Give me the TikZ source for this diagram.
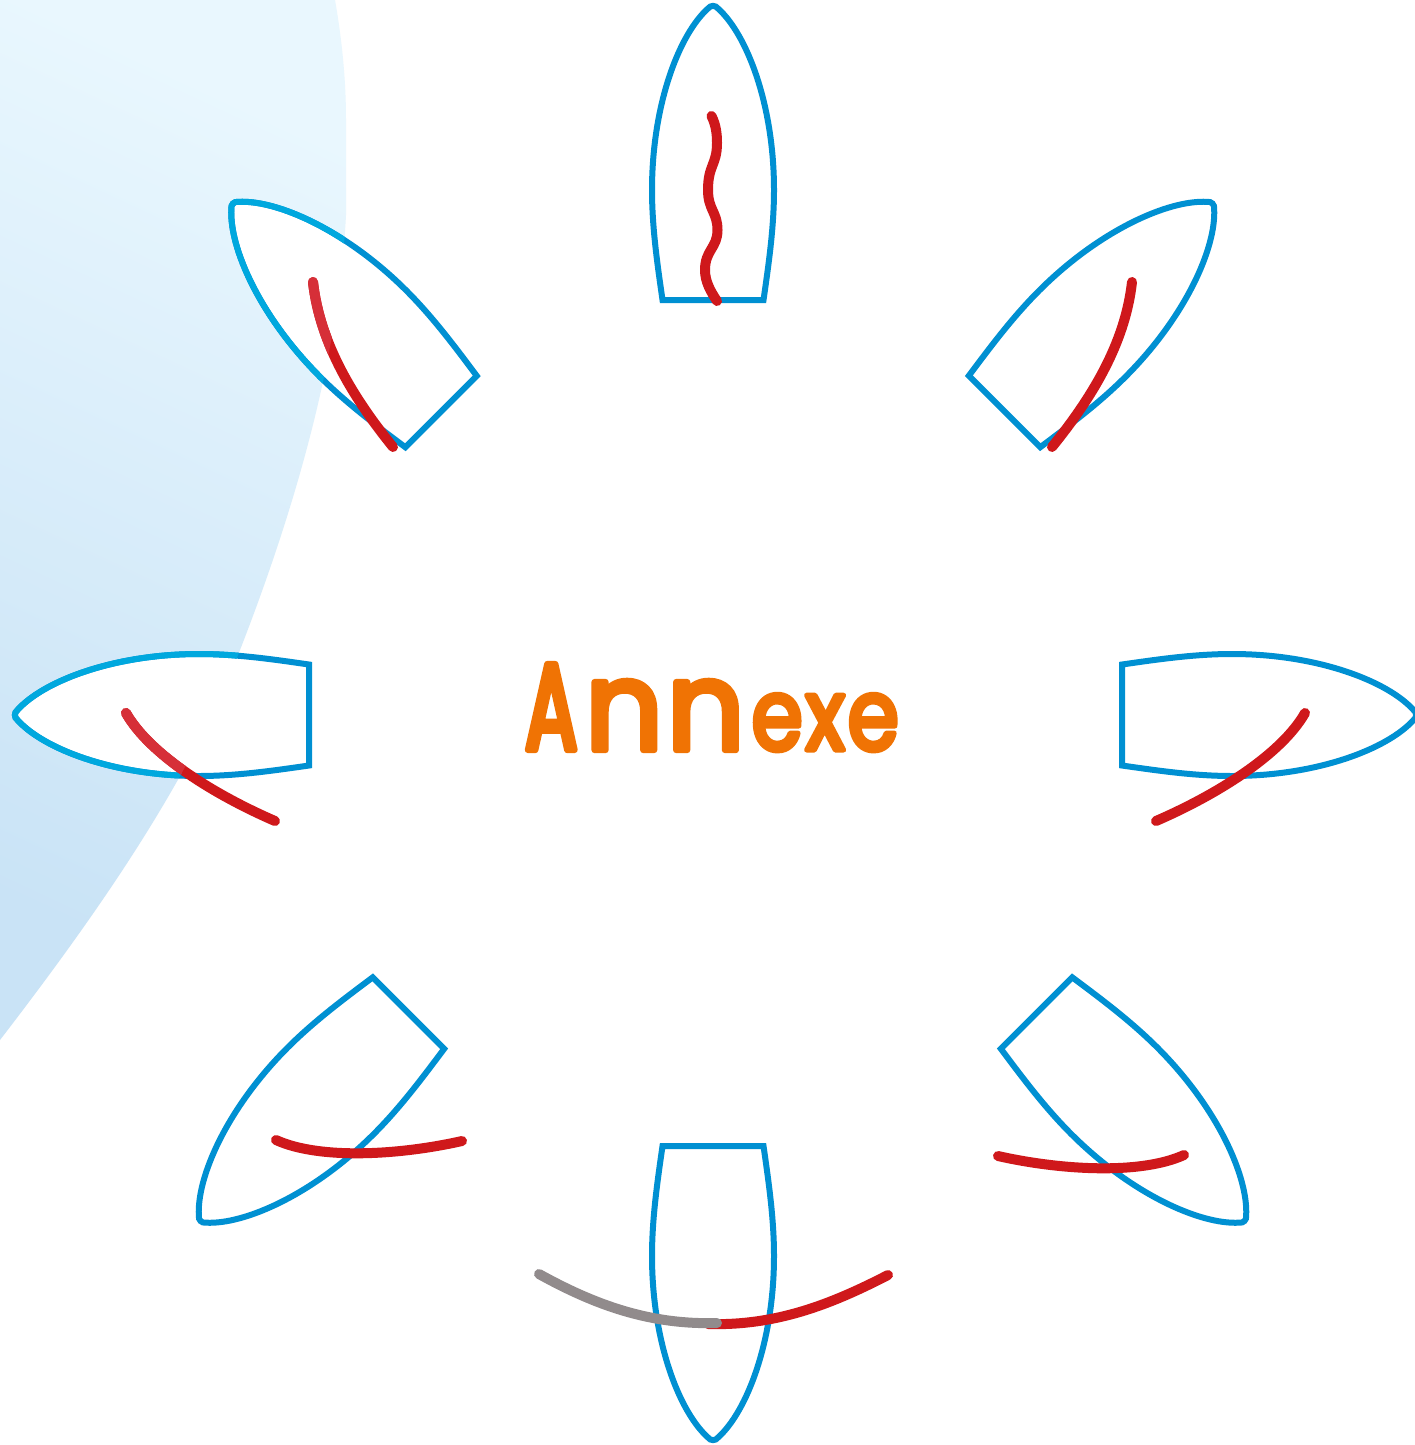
\documentclass[tikz,border=0pt]{standalone}
\usepackage{fontspec}
\newfontfamily\titleA{Poppins}[FakeBold=5,FakeStretch=0.62]
\newfontfamily\titleN{Poppins}[FakeBold=5,FakeStretch=0.98]
\newfontfamily\titleE{Poppins}[FakeBold=5,FakeStretch=0.82]
\definecolor{hullblue}{HTML}{0090D2}
\definecolor{hulllight}{HTML}{00A8DE}
\definecolor{sailred}{HTML}{CF181B}
\definecolor{saillight}{HTML}{D62F38}
\definecolor{sailgrey}{HTML}{918B8C}
\definecolor{titleorange}{HTML}{F07304}
\definecolor{seatop}{HTML}{E9F7FE}
\definecolor{seabottom}{HTML}{C9E3F6}
\tikzset{
  hullline/.style={line width=6pt,line join=miter,draw=hullblue},
  hullfaded/.style={line width=6pt,line join=miter,draw=hulllight},
  sailline/.style={line width=10pt,line cap=round,draw=sailred},
  sailfaded/.style={line width=10pt,line cap=round,draw=saillight},
  sailgreyed/.style={line width=10pt,line cap=round,draw=sailgrey},
  titletext/.style={text=titleorange,inner sep=0pt,anchor=base}
}
\newcommand{\hullshape}{(-50.5,0) .. controls (-55.5,-35) and (-61,-72) .. (-61,-110) .. controls (-61,-195) and (-34,-265.5) .. (-5,-291.5) .. controls (-2.5,-295) and (2.5,-295) .. (5,-291.5) .. controls (34,-265.5) and (61,-195) .. (61,-110) .. controls (61,-72) and (55.5,-35) .. (50.5,0) -- cycle}
\newcommand{\seashape}{(-5,-5) -- (335,-5) -- (335,0) .. controls (342,40) and (346,80) .. (346,120) -- (346,215) .. controls (340,330) and (310,470) .. (240,650) .. controls (190,780) and (100,910) .. (0,1040) -- (-5,1045) -- cycle}
\newcommand{\sailTL}{(313,282) .. controls (320,345) and (355,400) .. (393,447)}
\newcommand{\sailL}{(126,713) .. controls (150,755) and (215,795) .. (275,821)}
\begin{document}
\begin{tikzpicture}[x=1pt,y=-1pt]
\useasboundingbox (0,0) rectangle (1415,1445);
\clip (0,0) rectangle (1415,1445);
\fill[white] (0,0) rectangle (1415,1445);
% sea
\shade[top color=seatop,bottom color=seabottom,shading angle=-25] \seashape;
% hulls
\foreach \hx/\hy/\hr in {713/300/0,1004.5/411.5/-45,1122/715/-90,1036.5/1013/-135,713/1146/180,408.5/1013/135,309/715/90,441/411.5/45}{
  \begin{scope}[shift={(\hx,\hy)},rotate=\hr]
    \filldraw[hullline,fill=white] \hullshape;
  \end{scope}
}
% sails
\draw[sailline] (711.5,116) .. controls (716,125) and (717,134) .. (717,143) .. controls (717,165) and (708,165) .. (708,190) .. controls (708,210) and (717.5,212) .. (717.5,230) .. controls (717.5,248) and (705,250) .. (705,270) .. controls (705,282) and (711,292) .. (717,301);
\draw[sailline] (1132,282) .. controls (1125,345) and (1090,400) .. (1052,447);
\draw[sailline] \sailTL;
\draw[sailline] \sailL;
\draw[sailline] (1305,713) .. controls (1281,755) and (1216,795) .. (1156,821);
\draw[sailline] (276,1140) .. controls (320,1160) and (400,1155) .. (462,1141);
\draw[sailline] (1184,1155) .. controls (1140,1175) and (1060,1170) .. (998,1156);
\draw[sailline] (708,1324) .. controls (775,1326) and (830,1305) .. (888,1275);
\draw[sailgreyed] (717,1323) .. controls (650,1325) and (595,1305) .. (539,1274);
% lighter look where the strokes lie over the sea
\begin{scope}
  \clip \seashape;
  \foreach \hx/\hy/\hr in {309/715/90,441/411.5/45}{
    \begin{scope}[shift={(\hx,\hy)},rotate=\hr]
      \draw[hullfaded] \hullshape;
    \end{scope}
  }
  \draw[sailfaded] \sailTL;
  \draw[sailfaded] \sailL;
\end{scope}
\begin{scope}[line join=round,line cap=round]
\node[titletext] (title) at (712,750) {\fontsize{124}{124}\titleA A\kern8pt\titleN n\kern4pt n\kern7pt\fontsize{100}{100}\titleE e\kern3pt x\kern3pt e};
\end{scope}
\end{tikzpicture}
\end{document}
